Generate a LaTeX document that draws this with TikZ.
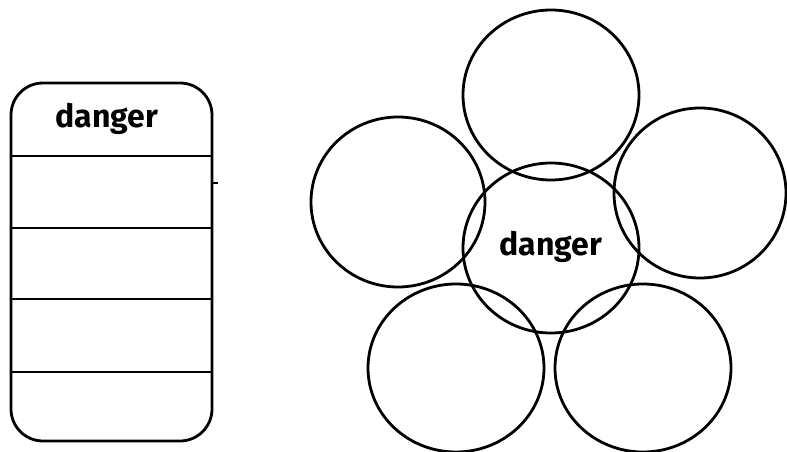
\documentclass[tikz,border=0pt]{standalone}
\usepackage{fontspec}
\setmainfont{Fira Sans}
\tikzset{
  ring/.style={draw=black, line width=2.8pt},
  lbl/.style={font=\fontsize{32}{34}\selectfont\bfseries, inner sep=0pt},
  rule/.style={draw=black, line width=2.8pt}
}
\begin{document}
\begin{tikzpicture}[x=1pt,y=-1pt]
\useasboundingbox (0,0) rectangle (787,452);
% left stacked box
\draw[ring, rounded corners=32pt] (11,83) rectangle (212,441);
\coordinate (L1) at (11,156); \coordinate (R1) at (212,156);
\coordinate (L2) at (11,228); \coordinate (R2) at (212,228);
\coordinate (L3) at (11,299); \coordinate (R3) at (212,299);
\coordinate (L4) at (11,372); \coordinate (R4) at (212,372);
\draw[rule] (L1) -- (R1);
\draw[rule] (L2) -- (R2);
\draw[rule] (L3) -- (R3);
\draw[rule] (L4) -- (R4);
\coordinate (T1) at (212,183); \coordinate (T2) at (218,183);
\draw[line width=1.8pt] (T1) -- (T2);
\node[lbl] (toplabel) at (107,119) {danger};
% circles
\draw[ring] (551,95) ellipse [x radius=88, y radius=85];
\draw[ring] (398,202) ellipse [x radius=87, y radius=85];
\draw[ring] (700,193) ellipse [x radius=86, y radius=85];
\draw[ring] (456,368) ellipse [x radius=88, y radius=84];
\draw[ring] (643,368) ellipse [x radius=88, y radius=84];
\draw[ring] (551,248) ellipse [x radius=88, y radius=85];
\node[lbl] (centerlabel) at (551,247) {danger};
\end{tikzpicture}
\end{document}
